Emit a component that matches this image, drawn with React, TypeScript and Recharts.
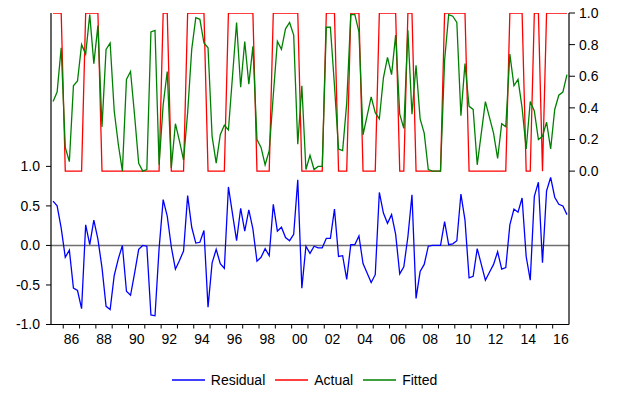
import React from 'react';
import { LineChart, Line, XAxis, YAxis, ReferenceLine, Legend } from 'recharts';

// Quarterly observations, 1985Q2 .. 2016Q4
const START_YEAR = 1985;
const START_QUARTER = 2;

const actual = [
  1, 1, 1, 0, 0, 0, 0, 0, 1, 1, 1, 1, 0, 0, 0, 0, 0, 0, 0, 0,
  0, 0, 0, 0, 0, 0, 0, 1, 1, 0, 0, 0, 0, 1, 1, 1, 1, 1, 0, 0,
  0, 0, 0, 1, 1, 1, 1, 1, 1, 1, 0, 0, 0, 0, 1, 1, 1, 1, 1, 1,
  1, 0, 0, 0, 0, 0, 0, 1, 1, 1, 0, 0, 0, 1, 1, 1, 0, 0, 0, 0,
  1, 1, 1, 1, 1, 0, 0, 1, 1, 0, 0, 0, 0, 0, 0, 0, 1, 1, 1, 1,
  1, 1, 0, 0, 0, 0, 0, 0, 0, 0, 0, 0, 1, 1, 1, 1, 0, 0, 1, 1,
  0, 1, 1, 1, 1, 1, 1,
];

const fitted = [
  0.44, 0.50, 0.78, 0.15, 0.06, 0.54, 0.57, 0.80, 0.74, 0.99,
  0.68, 0.92, 0.28, 0.77, 0.81, 0.38, 0.17, 0.00, 0.58, 0.63,
  0.35, 0.05, 0.00, 0.01, 0.88, 0.89, 0.04, 0.42, 0.63, 0.02,
  0.30, 0.19, 0.07, 0.37, 0.77, 0.97, 0.96, 0.81, 0.78, 0.22,
  0.05, 0.23, 0.29, 0.26, 0.60, 0.94, 0.53, 0.82, 0.55, 0.79,
  0.20, 0.15, 0.04, 0.13, 0.48, 0.82, 0.77, 0.90, 0.94, 0.86,
  0.17, 0.54, 0.01, 0.10, 0.01, 0.03, 0.03, 0.91, 0.91, 0.54,
  0.14, 0.13, 0.43, 0.99, 0.99, 0.88, 0.23, 0.35, 0.47, 0.37,
  0.33, 0.59, 0.72, 0.61, 0.86, 0.36, 0.27, 0.89, 0.36, 0.67,
  0.33, 0.24, 0.01, 0.00, 0.00, 0.00, 0.70, 0.99, 0.98, 0.94,
  0.35, 0.68, 0.41, 0.39, 0.04, 0.24, 0.44, 0.34, 0.24, 0.08,
  0.30, 0.28, 0.74, 0.54, 0.58, 0.40, 0.14, 0.44, 0.38, 0.20,
  0.22, 0.31, 0.14, 0.39, 0.48, 0.50, 0.61,
];

const residual = [
  0.56, 0.50, 0.22, -0.15, -0.06, -0.54, -0.57, -0.80, 0.26, 0.01,
  0.32, 0.08, -0.28, -0.77, -0.81, -0.38, -0.17, 0.00, -0.58, -0.63,
  -0.35, -0.05, 0.00, -0.01, -0.88, -0.89, -0.04, 0.58, 0.37, -0.02,
  -0.30, -0.19, -0.07, 0.63, 0.23, 0.03, 0.04, 0.19, -0.78, -0.22,
  -0.05, -0.23, -0.29, 0.74, 0.40, 0.06, 0.47, 0.18, 0.45, 0.21,
  -0.20, -0.15, -0.04, -0.13, 0.52, 0.18, 0.23, 0.10, 0.06, 0.14,
  0.83, -0.54, -0.01, -0.10, -0.01, -0.03, -0.03, 0.09, 0.09, 0.46,
  -0.14, -0.13, -0.43, 0.01, 0.01, 0.12, -0.23, -0.35, -0.47, -0.37,
  0.67, 0.41, 0.28, 0.39, 0.14, -0.36, -0.27, 0.11, 0.64, -0.67,
  -0.33, -0.24, -0.01, 0.00, 0.00, 0.00, 0.30, 0.01, 0.02, 0.06,
  0.65, 0.32, -0.41, -0.39, -0.04, -0.24, -0.44, -0.34, -0.24, -0.08,
  -0.30, -0.28, 0.26, 0.46, 0.42, 0.60, -0.14, -0.44, 0.62, 0.80,
  -0.22, 0.69, 0.86, 0.61, 0.52, 0.50, 0.39,
];

const yearTicks = [
  1986, 1987, 1988, 1989, 1990, 1991, 1992, 1993, 1994, 1995, 1996,
  1997, 1998, 1999, 2000, 2001, 2002, 2003, 2004, 2005, 2006, 2007,
  2008, 2009, 2010, 2011, 2012, 2013, 2014, 2015, 2016,
];
const leftTicks = [-1, -0.5, 0, 0.5, 1];
const rightTicks = [0, 0.2, 0.4, 0.6, 0.8, 1];

const data = fitted.map((f, i) => ({
  t: START_YEAR + (START_QUARTER - 1) / 4 + 0.125 + i * 0.25,
  residual: residual[i],
  actual: actual[i],
  fitted: f,
}));

const FONT = "Arial, 'Liberation Sans', Helvetica, sans-serif";
const BLUE = '#0000ff';
const RED = '#ff0000';
const GREEN = '#008000';

const XTick = (props: any) => {
  const { x, y, payload } = props;
  const yr = Number(payload.value);
  if (yr % 2 !== 0) return <g />;
  return (
    <text x={x + 8.2} y={y} dy="0.71em" textAnchor="middle" fontSize={14} fill="#000" fontFamily={FONT}>
      {String(yr % 100).padStart(2, '0')}
    </text>
  );
};

const legendItems = [
  { name: 'Residual', color: BLUE },
  { name: 'Actual', color: RED },
  { name: 'Fitted', color: GREEN },
];

const LegendContent = () => (
  <div style={{ display: 'flex', justifyContent: 'center', alignItems: 'center', height: 20, fontFamily: FONT, fontSize: 14, color: '#000' }}>
    {legendItems.map((it) => (
      <div key={it.name} style={{ display: 'flex', alignItems: 'center', marginRight: 10 }}>
        <svg width={33} height={4} style={{ marginRight: 6 }}>
          <line x1={0} y1={2} x2={33} y2={2} stroke={it.color} strokeWidth={1.5} />
        </svg>
        <span>{it.name}</span>
      </div>
    ))}
  </div>
);

export default function App() {
  return (
    <div style={{ position: 'absolute', left: 0, top: 0, width: 619, height: 396, background: '#fff' }}>
      <LineChart width={619} height={396} data={data} margin={{ top: 13, right: 0, left: 0, bottom: 6 }}>
        <XAxis
          xAxisId="bottom"
          dataKey="t"
          type="number"
          domain={[1985.25, 2017]}
          ticks={yearTicks}
          interval={0}
          height={45.5}
          tickSize={4}
          tickMargin={6}
          tick={<XTick />}
          axisLine={{ stroke: '#000', strokeWidth: 1.2 }}
          tickLine={{ stroke: '#000', strokeWidth: 1 }}
          allowDataOverflow
        />
        <XAxis
          xAxisId="top"
          dataKey="t"
          type="number"
          orientation="top"
          domain={[1985.25, 2017]}
          height={0}
          tick={false}
          tickLine={false}
          axisLine={{ stroke: '#000', strokeWidth: 1.2 }}
          allowDataOverflow
        />
        <YAxis
          yAxisId="left"
          orientation="left"
          width={51}
          domain={[-1, 2.94]}
          ticks={leftTicks}
          interval={0}
          tickSize={5}
          tickMargin={6}
          tickFormatter={(v: number) => v.toFixed(1)}
          tick={{ fontSize: 14, fill: '#000', fontFamily: FONT }}
          axisLine={{ stroke: '#000', strokeWidth: 1.2 }}
          tickLine={{ stroke: '#000' }}
          allowDataOverflow
        />
        <YAxis
          yAxisId="right"
          orientation="right"
          width={50}
          domain={[-0.97, 1.0]}
          ticks={rightTicks}
          interval={0}
          tickSize={6}
          tickMargin={4}
          tickFormatter={(v: number) => v.toFixed(1)}
          tick={{ fontSize: 14, fill: '#000', fontFamily: FONT, textAnchor: 'start' }}
          axisLine={{ stroke: '#000', strokeWidth: 1.2 }}
          tickLine={{ stroke: '#000' }}
          allowDataOverflow
        />
        <ReferenceLine yAxisId="left" xAxisId="bottom" y={0} stroke="#707070" strokeWidth={1.5} />
        <Line xAxisId="bottom" yAxisId="left" dataKey="residual" name="Residual" stroke={BLUE} strokeWidth={1.3} dot={false} isAnimationActive={false} type="linear" />
        <Line xAxisId="bottom" yAxisId="right" dataKey="actual" name="Actual" stroke={RED} strokeWidth={1.3} dot={false} isAnimationActive={false} type="linear" />
        <Line xAxisId="bottom" yAxisId="right" dataKey="fitted" name="Fitted" stroke={GREEN} strokeWidth={1.3} dot={false} isAnimationActive={false} type="linear" />
        <Legend verticalAlign="bottom" align="center" content={<LegendContent />} />
      </LineChart>
    </div>
  );
}
